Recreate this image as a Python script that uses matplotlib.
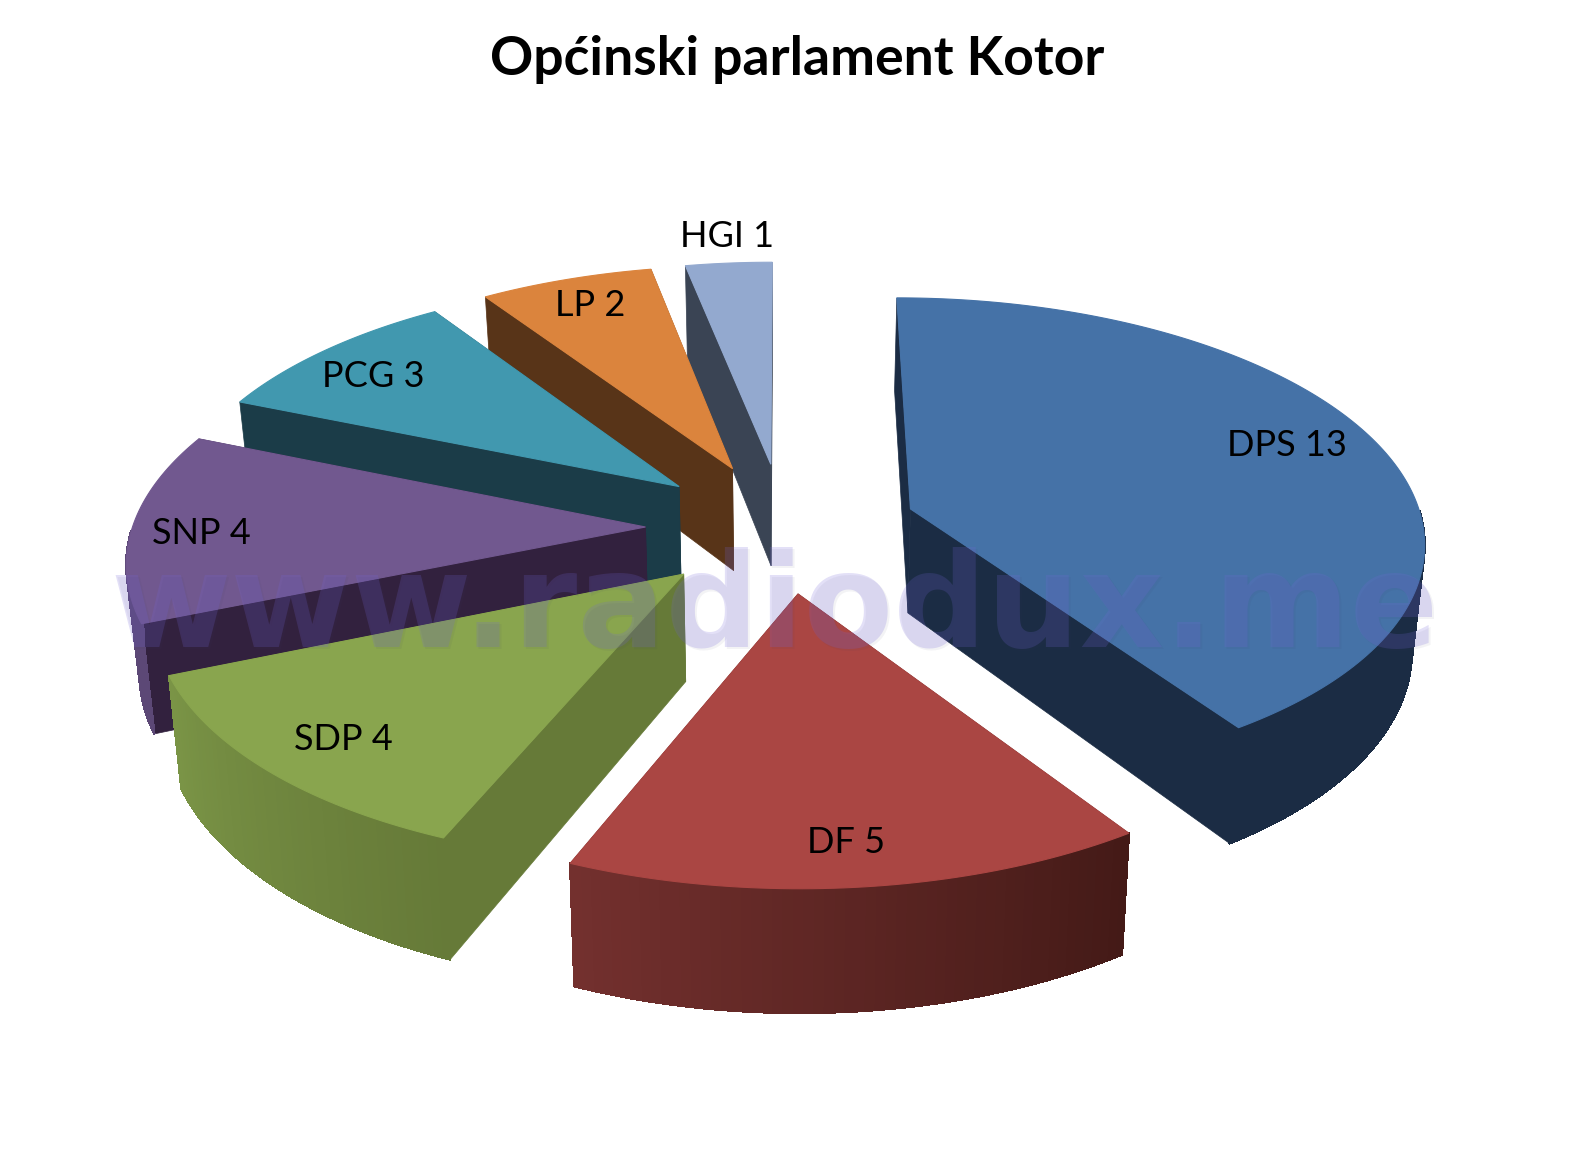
import numpy as np
import matplotlib
matplotlib.use('Agg')
import matplotlib.pyplot as plt
from matplotlib.patches import Polygon
from matplotlib.colors import to_rgb

parties = ['DPS', 'DF', 'SDP', 'SNP', 'PCG', 'LP', 'HGI']
seats = [13, 5, 4, 4, 3, 2, 1]

top_colors = ['#4572A7', '#AA4643', '#89A54E', '#71588F', '#4198AF', '#DB843D', '#93A9CF']
face_colors = ['#1B2C44', '#481A18', '#667A38', '#32213E', '#1B3C48', '#583418', '#3A4454']
rim_start = ['#1B2C44', '#441A17', '#667A38', '#5C4876', '#1B3C48', '#583418', '#3A4454']
rim_end = ['#1B2C44', '#73302E', '#7A9446', '#5C4876', '#1B3C48', '#583418', '#3A4454']

explode = [0.26, 0.27, 0.27, 0.27, 0.27, 0.27, 0.27]

# label shifts in pixels, the labels don't sit on one radius
label_dx = [-12, -2, 0, -18, -9, -2, 5]
label_dy = [-8, 11, 5, 6, 4, -4, 5]

# perspective of the disc, in pixels of the output image
CX, CY = 784, 527
RX, RY = 513, 241
PERSP = 0.122
DEPTH = 105


def project(u, v):
    s = 1 / (1 - PERSP * v)
    return CX + RX * u * s, CY + RY * v * s


def lower(u, v):
    s = 1 / (1 - PERSP * v)
    x, y = project(u, v)
    return CX + (x - CX) * 0.98, y + DEPTH * s


fig = plt.figure(figsize=(15.94, 11.63), dpi=100)
ax = fig.add_axes([0, 0, 1, 1])
ax.set_xlim(0, 1594)
ax.set_ylim(1163, 0)
ax.axis('off')

total = sum(seats)
edges = np.cumsum([0] + seats) / total * 2 * np.pi
label_pos = []

for i in reversed(range(len(seats))):
    a0, a1 = edges[i], edges[i + 1]
    mid = (a0 + a1) / 2
    ou, ov = explode[i] * np.sin(mid), -explode[i] * np.cos(mid)
    th = np.linspace(a0, a1, max(int((a1 - a0) * 60), 12))
    us = ou + np.sin(th)
    vs = ov - np.cos(th)
    top = [project(u, v) for u, v in zip(us, vs)]
    bot = [lower(u, v) for u, v in zip(us, vs)]
    apex_t = project(ou, ov)
    apex_b = lower(ou, ov)

    # the two cut faces
    for k in (0, -1):
        ax.add_patch(Polygon([apex_t, top[k], bot[k], apex_b], fc=face_colors[i], ec=face_colors[i], lw=0.5))

    # outer rim, shaded along the arc, only the part that faces the viewer
    c0, c1 = np.array(to_rgb(rim_start[i])), np.array(to_rgb(rim_end[i]))
    for k in range(len(th) - 1):
        if np.cos(th[k]) > -0.02 and np.cos(th[k + 1]) > -0.02:
            continue
        c = c0 + (c1 - c0) * k / (len(th) - 2)
        ax.add_patch(Polygon([top[k], top[k + 1], bot[k + 1], bot[k]], fc=c, ec=c, lw=1, antialiased=False))

    ax.add_patch(Polygon([apex_t] + top, fc=top_colors[i], ec=top_colors[i], lw=0.8))

    r = 1.18 if seats[i] == 1 else 0.83
    x, y = project(ou + r * np.sin(mid), ov - r * np.cos(mid))
    label_pos.append((i, x + label_dx[i], y + label_dy[i]))

for i, x, y in label_pos:
    ax.text(x, y, '%s %d' % (parties[i], seats[i]), fontsize=26, family='Lato', color='black',
            ha='center', va='center', zorder=6)

ax.text(797, 59, 'Općinski parlament Kotor', fontsize=38.5, family='Lato', fontweight='bold',
        color='black', ha='center', va='center', zorder=6)

# watermark over the chart
ax.text(777, 649, 'www.radiodux.me', fontsize=94, family='DejaVu Sans', fontweight='bold',
        color='#3C3C64', alpha=0.06, ha='center', va='baseline', zorder=4)
ax.text(775, 647, 'www.radiodux.me', fontsize=94, family='DejaVu Sans', fontweight='bold',
        color='#7364D7', alpha=0.20, ha='center', va='baseline', zorder=5)

fig.savefig('out.png', dpi=100, facecolor='white')
